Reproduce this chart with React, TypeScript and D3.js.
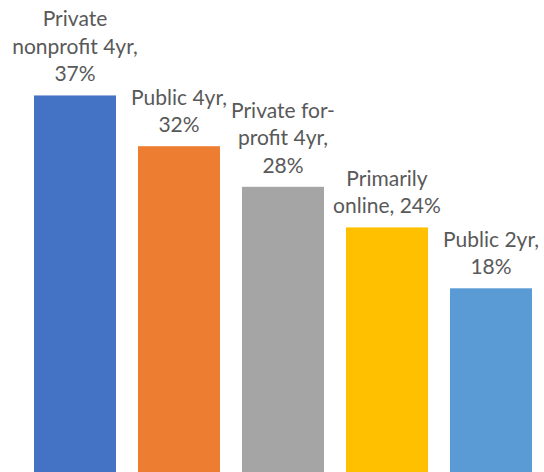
import React from "react";
import * as d3 from "d3";

const categories = ["Private nonprofit 4yr", "Public 4yr", "Private for-profit 4yr", "Primarily online", "Public 2yr"];
const values = [37, 32, 28, 24, 18];
const colors = ["#4472C4", "#ED7D31", "#A5A5A5", "#FFC000", "#5B9BD5"];
const labelLines = [
  ["Private", "nonprofit 4yr,", "37%"],
  ["Public 4yr,", "32%"],
  ["Private for-", "profit 4yr,", "28%"],
  ["Primarily", "online, 24%"],
  ["Public 2yr,", "18%"],
];

export default function App() {
  const W = 544, H = 472;
  const x = d3.scaleBand<string>().domain(categories).range([34, 532]).paddingInner(22 / 104).paddingOuter(0);
  const y = d3.scaleLinear().domain([0, 40]).range([471, 65]);
  const lineH = 27.5;
  return (
    <svg width={W} height={H} style={{ position: "absolute", left: 0, top: 0, background: "#fff" }}
      fontFamily="Lato, 'Open Sans', sans-serif">
      {categories.map((c, i) => {
        const bx = x(c)!;
        const top = y(values[i]);
        const cx = bx + x.bandwidth() / 2;
        const lines = labelLines[i];
        return (
          <g key={c}>
            <rect x={bx} y={top} width={x.bandwidth()} height={y(0) - top + 1} fill={colors[i]} />
            <text textAnchor="middle" fill="#595959" fontSize={21}>
              {lines.map((l, j) => (
                <tspan key={j} x={cx} y={top - 14 - (lines.length - 1 - j) * lineH}>{l}</tspan>
              ))}
            </text>
          </g>
        );
      })}
    </svg>
  );
}
